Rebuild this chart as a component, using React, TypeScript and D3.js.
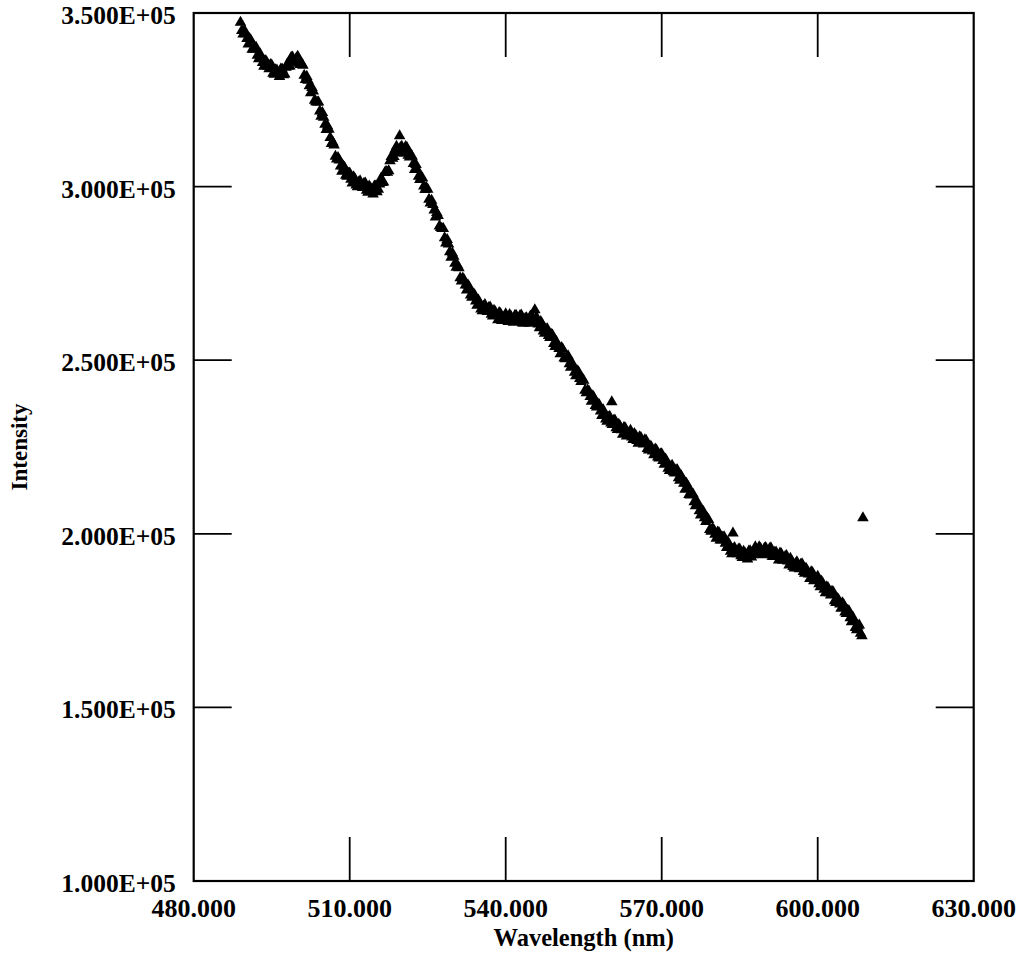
import React from "react";
import * as d3 from "d3";

// Scan A: wavelength (nm) of each measured point
const wavelengthsA = [
  489.0, 489.5, 490.0, 490.5, 491.0, 491.5, 492.0, 492.5, 493.0, 493.5, 494.0, 494.5, 495.0, 495.5, 496.0, 496.5, 497.0, 497.5, 498.0, 498.5,
  499.0, 499.5, 500.0, 500.5, 501.0, 501.5, 502.0, 502.5, 503.0, 503.5, 504.0, 504.5, 505.0, 505.5, 506.0, 506.5, 507.0, 507.5, 508.0, 508.5,
  509.0, 509.5, 510.0, 510.5, 511.0, 511.5, 512.0, 512.5, 513.0, 513.5, 514.0, 514.5, 515.0, 515.5, 516.0, 516.5, 517.0, 517.5, 518.0, 518.5,
  519.0, 519.5, 520.0, 520.5, 521.0, 521.5, 522.0, 522.5, 523.0, 523.5, 524.0, 524.5, 525.0, 525.5, 526.0, 526.5, 527.0, 527.5, 528.0, 528.5,
  529.0, 529.5, 530.0, 530.5, 531.0, 531.5, 532.0, 532.5, 533.0, 533.5, 534.0, 534.5, 535.0, 535.5, 536.0, 536.5, 537.0, 537.5, 538.0, 538.5,
  539.0, 539.5, 540.0, 540.5, 541.0, 541.5, 542.0, 542.5, 543.0, 543.5, 544.0, 544.5, 545.0, 545.5, 546.0, 546.5, 547.0, 547.5, 548.0, 548.5,
  549.0, 549.5, 550.0, 550.5, 551.0, 551.5, 552.0, 552.5, 553.0, 553.5, 554.0, 554.5, 555.0, 555.5, 556.0, 556.5, 557.0, 557.5, 558.0, 558.5,
  559.0, 559.5, 560.0, 560.5, 561.0, 561.5, 562.0, 562.5, 563.0, 563.5, 564.0, 564.5, 565.0, 565.5, 566.0, 566.5, 567.0, 567.5, 568.0, 568.5,
  569.0, 569.5, 570.0, 570.5, 571.0, 571.5, 572.0, 572.5, 573.0, 573.5, 574.0, 574.5, 575.0, 575.5, 576.0, 576.5, 577.0, 577.5, 578.0, 578.5,
  579.0, 579.5, 580.0, 580.5, 581.0, 581.5, 582.0, 582.5, 583.0, 583.5, 584.0, 584.5, 585.0, 585.5, 586.0, 586.5, 587.0, 587.5, 588.0, 588.5,
  589.0, 589.5, 590.0, 590.5, 591.0, 591.5, 592.0, 592.5, 593.0, 593.5, 594.0, 594.5, 595.0, 595.5, 596.0, 596.5, 597.0, 597.5, 598.0, 598.5,
  599.0, 599.5, 600.0, 600.5, 601.0, 601.5, 602.0, 602.5, 603.0, 603.5, 604.0, 604.5, 605.0, 605.5, 606.0, 606.5, 607.0, 607.5, 608.0, 608.5,
  519.6, 545.6, 560.4, 583.7, 608.7,
];

// Scan A: intensity, in thousands of counts
const intensityKA = [
  347.3, 343.9, 344.0, 341.0, 342.1, 339.5, 340.1, 336.8, 337.4, 334.6, 336.0, 333.9, 335.0, 332.3, 333.5, 331.7, 333.8, 332.4, 335.3, 334.7,
  337.3, 335.8, 337.5, 335.1, 334.9, 330.8, 330.6, 327.0, 327.5, 324.4, 324.3, 320.2, 319.9, 316.4, 316.5, 312.4, 311.9, 307.9, 307.6, 304.4,
  305.5, 302.9, 303.9, 301.0, 302.2, 299.9, 301.6, 299.7, 301.0, 298.3, 299.6, 297.8, 300.1, 299.2, 302.3, 301.3, 304.4, 304.5, 308.6, 308.6,
  311.6, 309.8, 311.6, 309.6, 311.2, 308.5, 308.7, 304.9, 304.9, 302.0, 302.4, 299.1, 299.2, 295.2, 294.8, 291.2, 291.6, 288.2, 287.9, 283.7,
  283.4, 279.6, 279.9, 276.7, 276.6, 272.8, 273.1, 270.2, 271.0, 268.1, 268.9, 265.8, 266.4, 264.2, 266.0, 264.0, 265.3, 262.7, 263.9, 261.6,
  263.4, 261.7, 263.3, 261.1, 262.6, 260.9, 262.9, 261.2, 263.0, 260.7, 262.2, 260.6, 262.8, 261.0, 262.2, 259.3, 260.4, 257.7, 259.0, 256.5,
  257.2, 253.9, 254.4, 251.8, 253.1, 250.4, 251.2, 247.9, 248.2, 245.5, 246.6, 243.8, 244.2, 240.6, 241.1, 238.1, 239.1, 236.5, 237.1, 234.0,
  234.7, 232.4, 233.8, 231.4, 232.7, 230.0, 230.9, 228.6, 230.4, 228.4, 229.8, 227.1, 228.3, 226.0, 227.7, 225.8, 226.9, 224.1, 225.0, 222.7,
  224.1, 221.8, 223.0, 220.0, 220.6, 218.2, 219.7, 217.5, 218.4, 215.4, 215.9, 212.8, 213.8, 211.1, 211.5, 208.0, 208.3, 205.4, 206.4, 203.5,
  204.1, 200.7, 201.2, 198.7, 200.3, 198.2, 199.1, 196.0, 196.8, 194.2, 196.0, 194.2, 195.6, 193.1, 194.4, 192.7, 195.1, 193.9, 196.2, 194.3,
  195.8, 193.9, 196.0, 194.3, 195.9, 193.4, 194.7, 192.4, 194.2, 192.4, 193.7, 191.0, 192.1, 190.1, 191.9, 189.9, 191.3, 188.6, 189.4, 187.1,
  188.8, 186.7, 187.7, 184.7, 185.6, 183.0, 184.4, 182.3, 183.2, 180.2, 181.0, 178.5, 179.6, 177.0, 177.8, 174.6, 175.0, 172.3, 173.7, 170.6,
  314.6, 264.5, 238.0, 200.2, 204.6,
];

// Scan B: wavelength (nm), offset from scan A
const wavelengthsB = [
  489.25, 489.75, 490.25, 490.75, 491.25, 491.75, 492.25, 492.75, 493.25, 493.75, 494.25, 494.75, 495.25, 495.75, 496.25, 496.75, 497.25, 497.75, 498.25, 498.75,
  499.25, 499.75, 500.25, 500.75, 501.25, 501.75, 502.25, 502.75, 503.25, 503.75, 504.25, 504.75, 505.25, 505.75, 506.25, 506.75, 507.25, 507.75, 508.25, 508.75,
  509.25, 509.75, 510.25, 510.75, 511.25, 511.75, 512.25, 512.75, 513.25, 513.75, 514.25, 514.75, 515.25, 515.75, 516.25, 516.75, 517.25, 517.75, 518.25, 518.75,
  519.25, 519.75, 520.25, 520.75, 521.25, 521.75, 522.25, 522.75, 523.25, 523.75, 524.25, 524.75, 525.25, 525.75, 526.25, 526.75, 527.25, 527.75, 528.25, 528.75,
  529.25, 529.75, 530.25, 530.75, 531.25, 531.75, 532.25, 532.75, 533.25, 533.75, 534.25, 534.75, 535.25, 535.75, 536.25, 536.75, 537.25, 537.75, 538.25, 538.75,
  539.25, 539.75, 540.25, 540.75, 541.25, 541.75, 542.25, 542.75, 543.25, 543.75, 544.25, 544.75, 545.25, 545.75, 546.25, 546.75, 547.25, 547.75, 548.25, 548.75,
  549.25, 549.75, 550.25, 550.75, 551.25, 551.75, 552.25, 552.75, 553.25, 553.75, 554.25, 554.75, 555.25, 555.75, 556.25, 556.75, 557.25, 557.75, 558.25, 558.75,
  559.25, 559.75, 560.25, 560.75, 561.25, 561.75, 562.25, 562.75, 563.25, 563.75, 564.25, 564.75, 565.25, 565.75, 566.25, 566.75, 567.25, 567.75, 568.25, 568.75,
  569.25, 569.75, 570.25, 570.75, 571.25, 571.75, 572.25, 572.75, 573.25, 573.75, 574.25, 574.75, 575.25, 575.75, 576.25, 576.75, 577.25, 577.75, 578.25, 578.75,
  579.25, 579.75, 580.25, 580.75, 581.25, 581.75, 582.25, 582.75, 583.25, 583.75, 584.25, 584.75, 585.25, 585.75, 586.25, 586.75, 587.25, 587.75, 588.25, 588.75,
  589.25, 589.75, 590.25, 590.75, 591.25, 591.75, 592.25, 592.75, 593.25, 593.75, 594.25, 594.75, 595.25, 595.75, 596.25, 596.75, 597.25, 597.75, 598.25, 598.75,
  599.25, 599.75, 600.25, 600.75, 601.25, 601.75, 602.25, 602.75, 603.25, 603.75, 604.25, 604.75, 605.25, 605.75, 606.25, 606.75, 607.25, 607.75, 608.25,
];

// Scan B: intensity, in thousands of counts
const intensityKB = [
  344.9, 345.0, 342.6, 342.6, 339.5, 339.7, 337.8, 338.2, 335.7, 336.3, 334.6, 335.1, 332.6, 333.6, 332.5, 333.8, 332.2, 334.3, 334.6, 337.2,
  335.9, 337.0, 335.5, 335.5, 332.0, 331.7, 329.0, 328.5, 324.8, 324.3, 321.7, 321.3, 317.9, 317.4, 314.1, 312.8, 308.7, 308.3, 305.9, 305.9,
  303.2, 303.8, 302.1, 302.8, 300.4, 301.3, 300.0, 300.9, 298.9, 300.1, 298.9, 300.1, 298.5, 300.7, 301.1, 304.0, 304.1, 307.4, 308.1, 310.7,
  309.6, 311.2, 310.5, 311.5, 309.0, 309.1, 306.6, 306.3, 302.9, 302.6, 300.1, 299.7, 296.3, 296.0, 293.2, 292.5, 288.6, 287.9, 285.2, 284.7,
  281.2, 280.8, 277.9, 277.3, 273.7, 273.6, 271.6, 271.6, 268.7, 269.0, 267.0, 267.3, 264.7, 265.5, 264.2, 265.1, 263.2, 264.3, 262.9, 263.7,
  261.4, 262.5, 261.7, 263.1, 261.5, 262.8, 261.7, 262.8, 260.7, 262.0, 261.3, 262.7, 260.9, 262.0, 260.4, 261.1, 258.4, 258.9, 257.1, 257.4,
  254.8, 255.3, 253.3, 253.6, 250.6, 250.8, 248.9, 249.2, 246.5, 246.9, 244.7, 244.6, 241.3, 241.4, 239.5, 239.7, 236.9, 237.3, 235.3, 235.7,
  233.0, 233.5, 231.9, 232.6, 230.5, 231.5, 229.9, 230.6, 228.1, 229.0, 227.8, 228.8, 226.8, 227.9, 226.4, 227.0, 224.5, 225.2, 223.8, 224.4,
  222.1, 222.9, 221.1, 221.5, 218.8, 219.3, 217.8, 218.4, 216.1, 216.7, 214.5, 214.5, 211.3, 211.3, 209.2, 209.4, 206.6, 206.8, 204.6, 204.5,
  201.2, 201.5, 199.8, 200.5, 198.2, 199.0, 197.2, 197.6, 194.9, 195.6, 194.4, 195.5, 193.6, 194.9, 193.8, 195.0, 193.3, 195.0, 194.6, 196.2,
  194.5, 195.8, 194.6, 195.7, 193.5, 194.6, 193.4, 194.4, 192.4, 193.5, 192.1, 192.9, 190.5, 191.4, 190.2, 191.2, 189.1, 190.0, 188.4, 189.0,
  186.4, 187.1, 185.6, 186.3, 184.0, 184.7, 183.0, 183.4, 180.7, 181.3, 179.7, 180.1, 177.4, 177.9, 175.8, 176.0, 173.0, 173.4, 171.3,
];

const xTicks = [480, 510, 540, 570, 600, 630];
const xTickLabels = ["480.000", "510.000", "540.000", "570.000", "600.000", "630.000"];
const yTicks = [100, 150, 200, 250, 300, 350];
const yTickLabels = ["1.000E+05", "1.500E+05", "2.000E+05", "2.500E+05", "3.000E+05", "3.500E+05"];

const W = 1024;
const H = 958;
const L = 193.7, R = 973.7, T = 13, B = 881;

export default function App() {
  const x = d3.scaleLinear().domain([480, 630]).range([L, R]);
  const y = d3.scaleLinear().domain([100, 350]).range([B, T]);
  const tri = d3.symbol(d3.symbolTriangle, 58)() as string;
  const font = "'Liberation Serif', 'Times New Roman', serif";
  const xTickLen = 44;
  const yTickLen = 38;

  const points = [
    ...wavelengthsA.map((w, i) => [w, intensityKA[i]]),
    ...wavelengthsB.map((w, i) => [w, intensityKB[i]]),
  ];

  return (
    <svg width={W} height={H} style={{ position: "absolute", left: 0, top: 0, background: "#fff" }}>
      <rect x={0} y={0} width={W} height={H} fill="#fff" />
      {xTicks.slice(1, -1).map((t) => (
        <g key={"xt" + t} stroke="#000" strokeWidth={1.8}>
          <line x1={x(t)} x2={x(t)} y1={B} y2={B - xTickLen} />
          <line x1={x(t)} x2={x(t)} y1={T} y2={T + xTickLen} />
        </g>
      ))}
      {yTicks.slice(1, -1).map((t) => (
        <g key={"yt" + t} stroke="#000" strokeWidth={1.8}>
          <line x1={L} x2={L + yTickLen} y1={y(t)} y2={y(t)} />
          <line x1={R} x2={R - yTickLen} y1={y(t)} y2={y(t)} />
        </g>
      ))}
      <rect x={L} y={T} width={R - L} height={B - T} fill="none" stroke="#000" strokeWidth={2.2} />
      {points.map(([w, v], i) => (
        <path key={i} d={tri} transform={`translate(${x(w)},${y(v)})`} fill="#000" />
      ))}
      {xTicks.map((t, i) => (
        <text key={"xl" + t} x={x(t)} y={B + 36} textAnchor="middle" fontFamily={font} fontWeight="bold" fontSize={26} fill="#000">
          {xTickLabels[i]}
        </text>
      ))}
      {yTicks.map((t, i) => (
        <text key={"yl" + t} x={L - 18} y={y(t) + 11} textAnchor="end" fontFamily={font} fontWeight="bold" fontSize={25.5} fill="#000">
          {yTickLabels[i]}
        </text>
      ))}
      <text x={(L + R) / 2} y={946} textAnchor="middle" fontFamily={font} fontWeight="bold" fontSize={24.5} fill="#000">
        Wavelength (nm)
      </text>
      <text transform={`translate(27,${(T + B) / 2}) rotate(-90)`} textAnchor="middle" fontFamily={font} fontWeight="bold" fontSize={23} fill="#000">
        Intensity
      </text>
    </svg>
  );
}
